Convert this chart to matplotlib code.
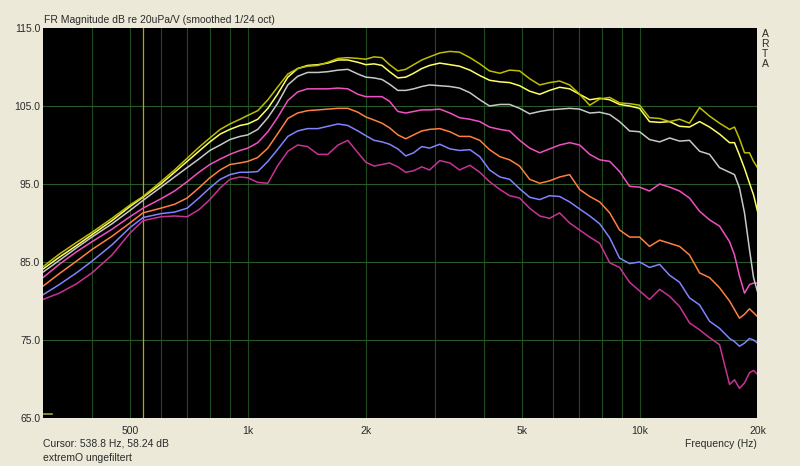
import matplotlib.pyplot as plt

plt.rcParams['font.family'] = ['Liberation Sans', 'DejaVu Sans']

freq = [300, 330, 365, 400, 450, 500, 540, 600, 650, 700, 750, 800, 850, 900, 955, 1000,
        1060, 1125, 1190, 1265, 1340, 1420, 1510, 1600, 1700, 1800, 1910, 2000, 2100, 2200,
        2300, 2415, 2530, 2650, 2780, 2910,
        3090, 3280, 3470, 3690, 3910, 4140, 4400, 4660, 4940, 5240, 5560, 5890, 6250, 6630,
        7030, 7460, 7910, 8390, 8890, 9430, 10000,
        10600, 11250, 11930, 12650, 13410, 14230, 15090, 16000, 16970,
        17470, 17990, 18530, 19080, 19540, 20000]

olive = [84.4, 86.0, 87.5, 88.8, 90.6, 92.3, 93.4, 95.3, 96.8, 98.3, 99.7, 100.9, 102.0, 102.7, 103.3, 103.8,
         104.4, 105.8, 107.4, 109.1, 109.8, 110.1, 110.2, 110.6, 111.1, 111.2, 111.1, 111.0, 111.3, 111.2,
         110.3, 109.5, 109.7, 110.3, 110.9, 111.3,
         111.8, 112.0, 111.9, 111.2, 110.4, 109.5, 109.2, 109.6, 109.5, 108.5, 107.7, 108.0, 108.2, 107.7,
         106.5, 105.1, 105.9, 106.1, 105.4, 105.3, 105.1,
         103.5, 103.4, 103.0, 103.3, 102.8, 104.8, 103.7, 102.8, 102.0,
         102.3, 100.8, 99.0, 99.0, 97.9, 97.1]

yellow = [84.1, 85.6, 87.1, 88.5, 90.3, 92.1, 93.3, 95.0, 96.5, 97.9, 99.2, 100.4, 101.4, 102.0, 102.5, 102.7,
          103.3, 104.7, 106.5, 108.7, 109.8, 110.2, 110.3, 110.5, 110.9, 110.9, 110.6, 110.3, 110.4, 110.2,
          109.4, 108.6, 108.7, 109.2, 109.8, 110.2,
          110.5, 110.3, 110.1, 109.6, 108.9, 108.3, 108.1, 108.0, 107.6, 106.9, 106.5, 107.0, 107.4, 107.2,
          106.5, 105.8, 106.0, 105.8, 105.2, 105.0, 104.7,
          103.0, 102.9, 103.0, 102.4, 102.3, 103.0, 102.3, 101.4, 100.3,
          100.3, 98.7, 97.0, 95.1, 93.6, 91.5]

grey = [83.7, 85.2, 86.8, 88.2, 89.9, 91.6, 92.9, 94.6, 95.9, 97.1, 98.2, 99.3, 100.0, 100.7, 101.1, 101.3,
        102.0, 103.5, 105.3, 107.7, 108.8, 109.3, 109.3, 109.4, 109.6, 109.7, 109.1, 108.7, 108.6, 108.4,
        107.8, 107.0, 107.0, 107.2, 107.5, 107.7,
        107.6, 107.5, 107.3, 106.7, 105.8, 105.0, 105.2, 105.2, 104.7, 104.0, 104.3, 104.5, 104.6, 104.7,
        104.6, 104.1, 104.2, 103.9, 103.0, 101.8, 101.7,
        100.7, 100.4, 100.9, 100.5, 100.6, 99.2, 98.8, 97.1, 96.5,
        96.2, 94.5, 91.3, 86.6, 83.0, 81.2]

pink = [83.0, 84.7, 86.3, 87.6, 89.2, 90.8, 91.9, 93.1, 94.1, 95.3, 96.5, 97.5, 98.2, 98.8, 99.3, 99.6,
        100.3, 101.7, 103.5, 105.7, 106.8, 107.2, 107.2, 107.2, 107.3, 107.2, 106.5, 106.2, 106.2, 106.2,
        105.6, 104.3, 104.1, 104.3, 104.5, 104.5,
        104.6, 104.1, 103.5, 103.3, 103.0, 102.3, 102.0, 101.8, 100.6, 99.6, 99.0, 99.5, 100.0, 100.3,
        100.0, 98.8, 98.1, 97.9, 96.6, 94.7, 94.6,
        94.1, 95.0, 94.6, 94.1, 93.2, 91.5, 90.4, 89.6, 87.6,
        85.9, 83.2, 81.0, 82.1, 82.3, 82.3]

orange = [81.9, 83.5, 85.1, 86.6, 88.3, 90.0, 91.3, 91.9, 92.4, 93.2, 94.5, 95.8, 96.8, 97.5, 97.7, 97.9,
          98.4, 99.6, 101.4, 103.4, 104.1, 104.4, 104.5, 104.6, 104.7, 104.7, 104.2, 103.6, 103.2, 102.8,
          102.2, 101.3, 100.8, 101.3, 101.8, 102.0,
          102.1, 101.7, 101.1, 101.1, 100.6, 99.4, 98.5, 98.1, 97.3, 95.6, 95.1, 95.4, 95.9, 96.2,
          94.3, 93.4, 92.7, 91.3, 89.1, 88.2, 88.2,
          87.0, 87.8, 87.4, 87.0, 85.9, 83.6, 83.0, 81.7, 80.0,
          78.9, 77.8, 78.3, 79.0, 78.5, 78.0]

blue = [80.8, 82.1, 83.6, 85.1, 87.2, 89.4, 90.7, 91.2, 91.4, 91.9, 93.2, 94.5, 95.6, 96.2, 96.5, 96.5,
        96.6, 97.9, 99.4, 101.1, 101.8, 102.1, 102.1, 102.4, 102.7, 102.5, 101.8, 101.2, 100.6, 100.4,
        100.1, 99.5, 98.6, 99.0, 99.8, 99.6,
        100.1, 99.5, 99.3, 99.4, 98.5, 96.8, 95.9, 95.6, 94.4, 93.3, 93.0, 93.5, 93.4, 92.7,
        91.8, 90.9, 89.9, 88.1, 85.5, 84.8, 85.0,
        84.3, 84.7, 83.3, 82.4, 80.4, 79.5, 77.4, 76.5, 75.2,
        74.8, 74.2, 74.6, 75.2, 75.0, 74.6]

purple = [80.2, 81.0, 82.2, 83.6, 85.9, 88.7, 90.3, 90.8, 90.9, 90.8, 91.7, 93.0, 94.5, 95.6, 95.9, 95.8,
          95.2, 95.1, 97.3, 99.2, 100.0, 99.8, 98.8, 98.8, 100.0, 100.6, 99.0, 97.8, 97.3, 97.5,
          97.7, 97.2, 96.5, 96.7, 97.2, 96.8,
          98.0, 97.7, 96.8, 97.4, 96.5, 95.3, 94.3, 93.5, 93.2, 91.9, 90.9, 90.6, 91.3, 90.0,
          89.1, 88.2, 87.4, 84.9, 84.3, 82.4, 81.3,
          80.2, 81.5, 80.6, 79.3, 77.2, 76.3, 75.3, 74.4, 69.3,
          69.9, 68.8, 69.5, 70.8, 71.1, 70.6]

curves = [(purple, '#c83296'), (blue, '#8282ff'), (orange, '#ff8040'), (pink, '#f050c0'),
          (grey, '#c8c8c8'), (yellow, '#ffff66'), (olive, '#bebe00')]

grid_freqs = [400, 500, 600, 700, 800, 900, 1000, 2000, 3000, 4000, 5000, 6000, 7000, 8000, 9000, 10000]
grid_db = [75, 85, 95, 105]
cursor_freq = 538.8

xticks = [500, 1000, 2000, 5000, 10000, 20000]
xlabels = ['500', '1k', '2k', '5k', '10k', '20k']
yticks = [65, 75, 85, 95, 105, 115]

W, H = 800, 466
bg = '#ece9d8'
txt = '#2a2a2a'
fs = 7.5

fig = plt.figure(figsize=(W / 100, H / 100), dpi=100, facecolor=bg)
ax = fig.add_axes([43 / W, 48 / H, 714.5 / W, 390 / H])
ax.set_facecolor('black')
ax.set_xscale('log')
ax.set_xlim(300, 20000)
ax.set_ylim(65, 115)

for f in grid_freqs:
    ax.axvline(f, color='#1f4a1f', lw=0.8, zorder=1)
for d in grid_db:
    ax.axhline(d, color='#2a5a2a', lw=0.8, zorder=1)
ax.axvline(cursor_freq, color='#b9a214', lw=0.9, zorder=1)

for vals, col in curves:
    ax.plot(freq, vals, color=col, lw=1.1, zorder=3)

# little marker at bottom left corner
ax.plot([0.002, 0.013], [0.009, 0.009], transform=ax.transAxes, color='#a0a050', lw=1.2, zorder=4)

ax.set_xticks(xticks)
ax.set_xticklabels(xlabels)
ax.minorticks_off()
ax.set_yticks(yticks)
ax.set_yticklabels(['%.1f' % v for v in yticks])
ax.tick_params(axis='both', length=0, labelsize=fs, colors=txt)
ax.tick_params(axis='x', pad=6)
ax.tick_params(axis='y', pad=2)
for s in ax.spines.values():
    s.set_visible(False)

fig.text(44 / W, 1 - 20 / H, 'FR Magnitude dB re 20uPa/V (smoothed 1/24 oct)',
         ha='left', va='center', fontsize=fs, color=txt)
fig.text(765 / W, 1 - 29 / H, 'A\nR\nT\nA', ha='center', va='top', fontsize=fs,
         color=txt, linespacing=1.0)
fig.text(43 / W, 1 - 444 / H, 'Cursor: 538.8 Hz, 58.24 dB', ha='left', va='center',
         fontsize=fs, color=txt)
fig.text(43 / W, 1 - 458 / H, 'extremO ungefiltert', ha='left', va='center',
         fontsize=fs, color=txt)
fig.text(757 / W, 1 - 444 / H, 'Frequency (Hz)', ha='right', va='center',
         fontsize=fs, color=txt)

fig.savefig('out.png', dpi=100, facecolor=bg)
